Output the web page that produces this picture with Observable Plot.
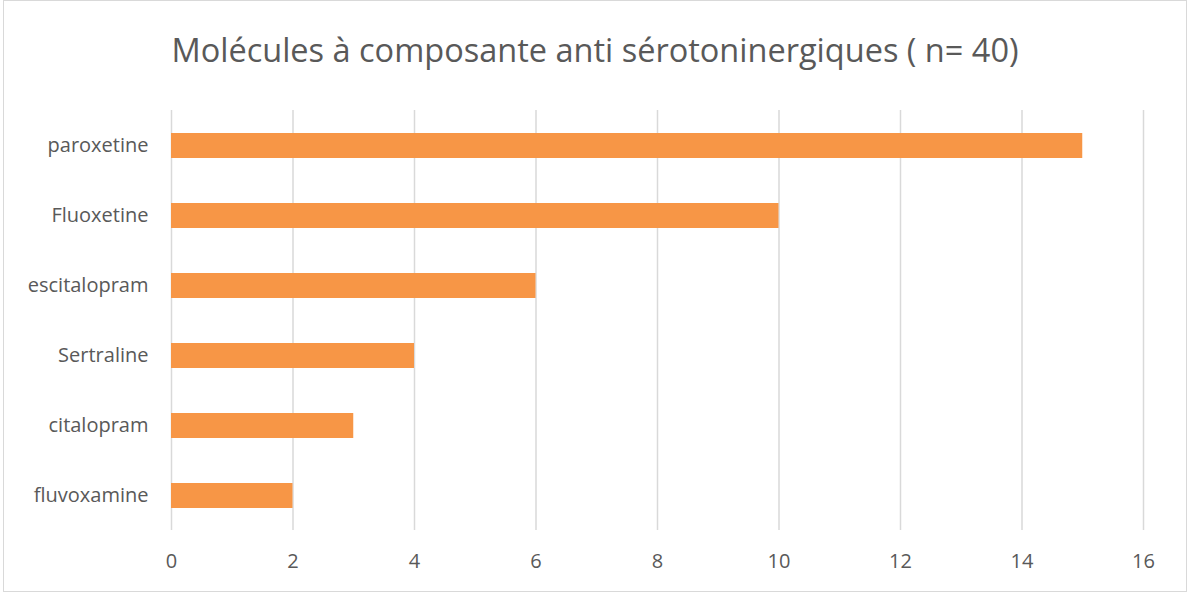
<!DOCTYPE html>
<html><head><meta charset="utf-8">
<script src="https://cdn.jsdelivr.net/npm/d3@7"></script>
<script src="https://cdn.jsdelivr.net/npm/@observablehq/plot@0.6"></script>
<style>
html,body{margin:0;padding:0;background:#fff;}
#wrap{position:relative;width:1190px;height:593px;overflow:hidden;}
#frame{position:absolute;left:3px;top:0;width:1184px;height:592px;border:1px solid #d9d9d9;box-sizing:border-box;pointer-events:none;}
#title{position:absolute;left:0;width:1190px;top:27px;text-align:center;font-family:"Open Sans",sans-serif;font-size:32.5px;color:#595959;white-space:nowrap;}
#chart{position:absolute;left:0;top:0;}
</style></head>
<body><div id="wrap"><div id="chart"></div><div id="title"></div><div id="frame"></div></div>
<script>
const titleText = "Molécules à composante anti sérotoninergiques ( n= 40)";
const molecules = ["paroxetine","Fluoxetine","escitalopram","Sertraline","citalopram","fluvoxamine"];
const counts = [15,10,6,4,3,2];
const xTicks = [0,2,4,6,8,10,12,14,16];
const data = molecules.map((m,i)=>({molecule:m,count:counts[i]}));
document.getElementById("title").textContent = titleText;
const chart = Plot.plot({
  width:1190, height:593,
  marginLeft:171, marginRight:47, marginTop:110, marginBottom:63,
  style:{fontFamily:"Open Sans, sans-serif", color:"#595959", background:"transparent"},
  x:{domain:[0,16], ticks:xTicks, label:null},
  y:{domain:molecules, paddingInner:0.65, paddingOuter:0.325, label:null},
  marks:[
    Plot.ruleX(xTicks,{stroke:"#d9d9d9",strokeWidth:1.5}),
    Plot.barX(data,{y:"molecule",x:"count",fill:"#f79646"}),
    Plot.axisX({ticks:xTicks, tickSize:0, tickPadding:23, fill:"#595959", fontSize:20, label:null}),
    Plot.axisY({tickSize:0, tickPadding:23, fill:"#595959", fontSize:20, label:null})
  ]
});
document.getElementById("chart").appendChild(chart);
</script></body></html>
